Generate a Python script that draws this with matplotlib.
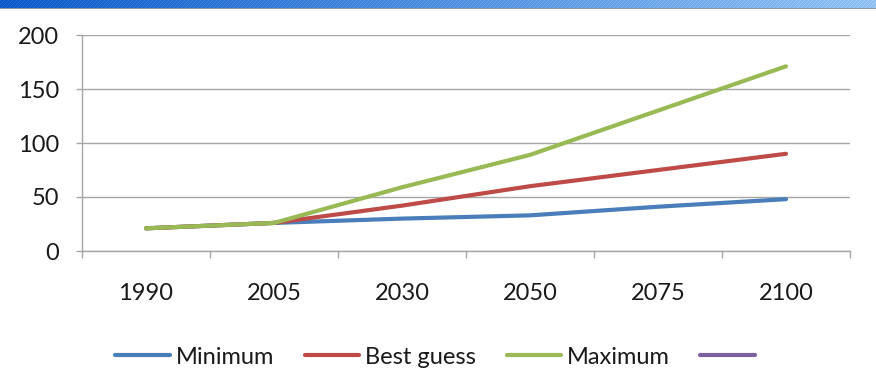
import numpy as np
import matplotlib.pyplot as plt
from matplotlib.lines import Line2D

# === DATA ===
years = ["1990", "2005", "2030", "2050", "2075", "2100"]
minimum = [21, 26, 30, 33, 41, 48]
best_guess = [21, 26, 42, 60, 75, 90]
maximum = [21, 26, 59, 89, 130, 171]
series_names = ["Minimum", "Best guess", "Maximum", ""]
series_colors = ["#4A7EBB", "#BE4B48", "#98B954", "#7D60A0"]

plt.rcParams["font.family"] = ["Lato", "DejaVu Sans"]
plt.rcParams["font.size"] = 17

fig = plt.figure(figsize=(8.76, 3.92), dpi=100)

# === BANNER STRIP ACROSS THE TOP ===
bh = 9
bw = 876
ban = fig.add_axes([0, 1 - bh / 392, 1, bh / 392])
t = np.linspace(0, 1, bw)
left = np.array([0.04, 0.35, 0.78])
right = np.array([0.56, 0.75, 0.94])
img = np.zeros((bh, bw, 3))
for r in range(bh):
    img[r] = left + (right - left) * t[:, None]
    stripe = ((np.arange(bw) + r) % 4) == 0
    img[r, stripe] = np.clip(img[r, stripe] + 0.08, 0, 1)
img[-1] = [0.55, 0.6, 0.66]
ban.imshow(img, aspect="auto", interpolation="nearest")
ban.axis("off")

# === CHART ===
ax = fig.add_axes([82 / 876, 1 - 251 / 392, 768 / 876, 216 / 392])
x = np.arange(len(years))
for vals, name, col in zip([minimum, best_guess, maximum], series_names, series_colors):
    ax.plot(x, vals, color=col, lw=3, solid_capstyle="round", solid_joinstyle="round", label=name)

grid_col = "#A6A6A6"
ax.set_xlim(-0.5, len(years) - 0.5)
ax.set_ylim(0, 200)
ax.set_yticks(np.arange(0, 201, 50))
ax.yaxis.grid(True, color=grid_col, lw=1)
ax.set_axisbelow(True)
for s in ["top", "right"]:
    ax.spines[s].set_visible(False)
for s in ["left", "bottom"]:
    ax.spines[s].set_color(grid_col)
    ax.spines[s].set_linewidth(1)

ax.set_xticks(x)
ax.set_xticklabels(years)
ax.set_xticks(np.arange(-0.5, len(years), 1), minor=True)
ax.tick_params(axis="x", which="major", length=0, pad=23, colors="#1a1a1a")
ax.tick_params(axis="x", which="minor", length=5, width=1, color=grid_col)
ax.tick_params(axis="y", length=4.5, width=1, color=grid_col, pad=12, labelcolor="#1a1a1a")

handles = [Line2D([], [], color=c, lw=3, solid_capstyle="round") for c in series_colors]
fig.legend(handles, series_names, loc="center", bbox_to_anchor=(0.5, 1 - 357 / 392),
           ncol=4, frameon=False, handlelength=2.3, handletextpad=0.25,
           columnspacing=1.3, labelcolor="#1a1a1a")

fig.savefig("out.png", dpi=100)
